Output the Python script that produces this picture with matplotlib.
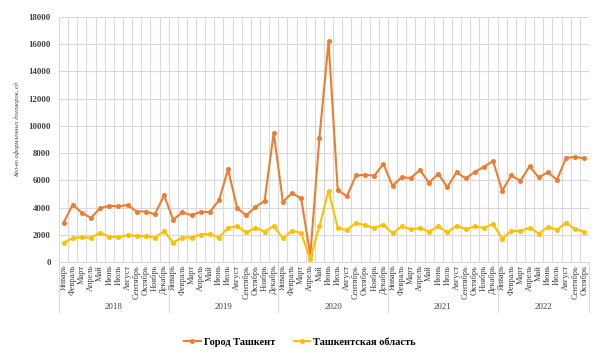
import numpy as np
import matplotlib
matplotlib.use("Agg")
import matplotlib.pyplot as plt
from matplotlib.lines import Line2D
from matplotlib.ticker import MultipleLocator, FixedLocator

months = ["Январь", "Февраль", "Март", "Апрель", "Май", "Июнь", "Июль",
          "Август", "Сентябрь", "Октябрь", "Ноябрь", "Декабрь"]
years = ["2018", "2019", "2020", "2021", "2022"]
months_per_year = [12, 12, 12, 12, 10]

tashkent_city = [
    2870, 4220, 3610, 3240, 3960, 4120, 4100, 4180, 3710, 3710, 3510, 4890,
    3120, 3640, 3440, 3680, 3680, 4520, 6800, 3960, 3420, 4050, 4490, 9500,
    4420, 5060, 4670, 490, 9130, 16200, 5300, 4820, 6360, 6410, 6340, 7200,
    5600, 6220, 6170, 6760, 5820, 6480, 5500, 6590, 6140, 6610, 7000, 7420,
    5230, 6360, 5950, 7030, 6220, 6590, 6040, 7660, 7710, 7620,
]
tashkent_region = [
    1430, 1750, 1820, 1800, 2140, 1870, 1820, 1970, 1920, 1890, 1800, 2260,
    1430, 1800, 1800, 2020, 2070, 1800, 2510, 2630, 2170, 2510, 2240, 2630,
    1750, 2310, 2120, 220, 2610, 5230, 2510, 2360, 2870, 2700, 2510, 2750,
    2120, 2610, 2410, 2480, 2240, 2610, 2170, 2680, 2410, 2610, 2510, 2800,
    1720, 2290, 2260, 2530, 2090, 2580, 2360, 2900, 2390, 2240,
]

labels = []
for n in months_per_year:
    labels += months[:n]
x = np.arange(len(labels))

serif = "Liberation Serif"
fig = plt.figure(figsize=(6.0, 3.55), dpi=100)
ax = fig.add_axes([59 / 600, 1 - 262 / 355, 530 / 600, 245 / 355])

c1 = "#ED7D31"
c2 = "#FFC000"
ax.plot(x, tashkent_city, color=c1, lw=1.5, marker="o", ms=2.6, zorder=3,
        label="Город Ташкент")
ax.plot(x, tashkent_region, color=c2, lw=1.5, marker="o", ms=2.6, zorder=3,
        label="Ташкентская область")

ax.set_xlim(-0.5, len(labels) - 0.5)
ax.set_ylim(0, 18000)
ax.yaxis.set_major_locator(MultipleLocator(2000))
ax.set_yticks(np.arange(0, 18001, 2000))
ax.set_yticklabels([f"{int(v)}" for v in np.arange(0, 18001, 2000)],
                   family=serif, fontsize=6.3, fontweight="bold",
                   color="#404040")
ax.set_xticks(x)
ax.set_xticklabels(labels, rotation=90, family=serif, fontsize=6,
                   color="#404040", va="top")
ax.xaxis.set_minor_locator(FixedLocator(np.arange(-0.5, len(labels), 1.0)))
ax.tick_params(axis="both", which="both", length=0, pad=2)
ax.tick_params(axis="y", pad=6)

ax.grid(True, axis="y", which="major", color="#D9D9D9", lw=0.8)
ax.grid(True, axis="x", which="minor", color="#D9D9D9", lw=0.8)
ax.grid(False, axis="x", which="major")
ax.set_axisbelow(True)
for s in ["top", "left", "right"]:
    ax.spines[s].set_visible(False)
ax.spines["bottom"].set_color("#D9D9D9")
ax.spines["bottom"].set_linewidth(0.8)

# year separators and labels
trans = ax.get_xaxis_transform()
start = 0
bounds = [-0.5]
for y, n in zip(years, months_per_year):
    ax.text(start + (n - 1) / 2, -0.185, y, transform=trans, ha="center",
            va="center", family=serif, fontsize=6.5, color="#404040")
    start += n
    bounds.append(start - 0.5)
for b in bounds:
    ax.add_line(Line2D([b, b], [0, -0.205], transform=trans, color="#D9D9D9",
                       lw=0.8, clip_on=False))

fig.text(17 / 600, 1 - 130 / 355, "Кол-во оформленных договоров, ед",
         rotation=90, ha="center", va="center", family=serif, fontsize=4.6,
         style="italic", color="#404040")

leg = fig.legend(loc="center", bbox_to_anchor=(0.5, 1 - 342 / 355), ncol=2,
                 frameon=False, prop={"family": serif, "weight": "bold",
                                      "size": 7.5},
                 handlelength=1.6, columnspacing=1.8, handletextpad=0.3)

fig.savefig("out.png", dpi=100)
